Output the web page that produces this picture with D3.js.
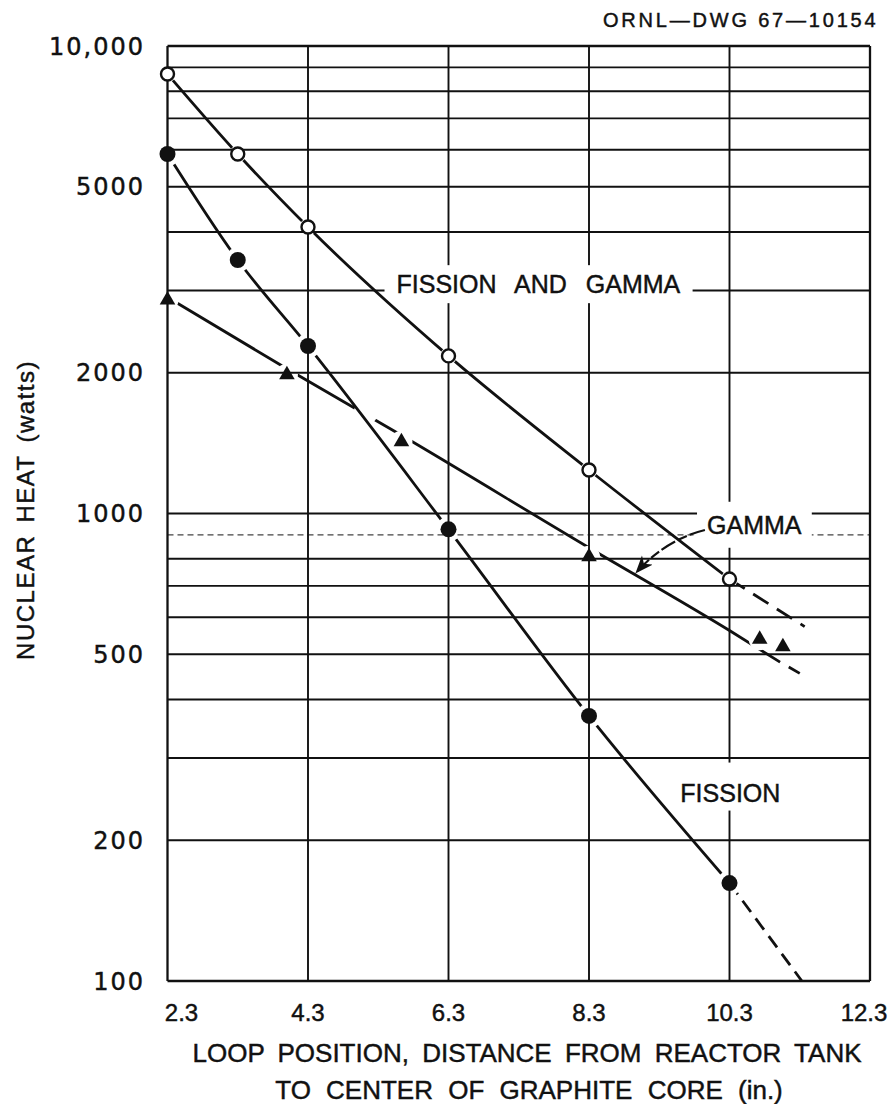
<!DOCTYPE html>
<html>
<head>
<meta charset="utf-8">
<script src="https://cdnjs.cloudflare.com/ajax/libs/d3/7.8.5/d3.min.js"></script>
<style>
  body { margin: 0; background: #fff; }
  text { fill: #111; stroke: #111; stroke-width: 0.45; }
</style>
</head>
<body>
<svg id="chart" width="893" height="1104"></svg>
<script>
// axis ticks and grid
var xTicks = [2.3, 4.3, 6.3, 8.3, 10.3, 12.3];
var yTicks = [100, 200, 500, 1000, 2000, 5000, 10000];
var yTickLabels = ["100", "200", "500", "1000", "2000", "5000", "10,000"];
var yGrid = [100, 200, 300, 400, 500, 600, 700, 800, 900,
             1000, 2000, 3000, 4000, 5000, 6000, 7000, 8000, 9000, 10000];

// fission and gamma (open circles)
var fgPos = [2.3, 3.3, 4.3, 6.3, 8.3, 10.3];
var fgVal = [8710, 5875, 4100, 2173, 1239, 724];
var fgExt = [[10.3, 724], [11.37, 573]];

// fission (filled circles)
var fisPos = [2.3, 3.3, 4.3, 6.3, 8.3, 10.3];
var fisVal = [5875, 3485, 2282, 925, 369, 162];
var fisExt = [[10.3, 162], [11.33, 100]];

// gamma (triangles) + faired curve
var gamPos = [2.3, 4.0, 5.63, 8.3, 10.73, 11.06];
var gamVal = [2862, 1980, 1424, 808, 538, 519];
var gamFitX = [2.3, 4.0, 5.63, 8.3, 10.3, 11.02];
var gamFitY = [2900, 2040, 1470, 845, 562, 481];
var gamExt = [[11.02, 481], [11.30, 455]];
var gamCross = [[5.12, 1641]];   // break where fission curve crosses

// GAMMA pointer arrow (start, control, tip)
var arrowPts = [[9.95, 922], [9.38, 878], [8.96, 744]];

var svg = d3.select("#chart");
svg.append("rect").attr("width", 893).attr("height", 1104).attr("fill", "#fff");

var x = d3.scaleLinear().domain([2.3, 12.3]).range([167.5, 870]);
var y = d3.scaleLog().domain([100, 10000]).range([981, 46]);

function zip(a, b) {
    return a.map(function(v, i) { return [v, b[i]]; });
}

var fgPts = zip(fgPos, fgVal);
var fisPts = zip(fisPos, fisVal);
var gamPts = zip(gamPos, gamVal);
var gamFit = zip(gamFitX, gamFitY);

var defs = svg.append("defs");

// masks leave small gaps in the curves round each plotted point
function makeMask(id, pts, r) {
    var m = defs.append("mask").attr("id", id).attr("maskUnits", "userSpaceOnUse")
        .attr("x", 0).attr("y", 0).attr("width", 893).attr("height", 1104);
    m.append("rect").attr("width", 893).attr("height", 1104).attr("fill", "#fff");
    m.selectAll("circle").data(pts).enter().append("circle")
        .attr("cx", function(d) { return x(d[0]); })
        .attr("cy", function(d) { return y(d[1]); })
        .attr("r", function(d) { return d[2] || r; })
        .attr("fill", "#000");
}
makeMask("m-fg", fgPts, 8.5);
makeMask("m-fis", fisPts, 12.5);
makeMask("m-gam", gamPts.concat(gamCross.map(function(d) { return [d[0], d[1], 12]; })), 11);

defs.append("marker")
    .attr("id", "arrowhead")
    .attr("markerUnits", "userSpaceOnUse")
    .attr("markerWidth", 22).attr("markerHeight", 16)
    .attr("refX", 18).attr("refY", 7)
    .attr("orient", "auto")
  .append("path")
    .attr("d", "M0,0 L18,7 L0,14 L5,7 Z")
    .attr("fill", "#111");

// grid
var grid = svg.append("g").attr("class", "grid");
grid.selectAll("line.h").data(yGrid).enter().append("line")
    .attr("class", "h")
    .attr("x1", x(2.3)).attr("x2", x(12.3))
    .attr("y1", function(d) { return y(d); })
    .attr("y2", function(d) { return y(d); })
    .attr("stroke", function(d) { return d === 900 ? "#444" : "#111"; })
    .attr("stroke-width", function(d) { return (d === 100 || d === 10000) ? 2.3 : (d === 900 ? 1.4 : 1.9); })
    .attr("stroke-dasharray", function(d) { return d === 900 ? "6,4" : null; });

grid.selectAll("line.v").data(xTicks).enter().append("line")
    .attr("class", "v")
    .attr("x1", function(d) { return x(d); })
    .attr("x2", function(d) { return x(d); })
    .attr("y1", y(10000)).attr("y2", y(100))
    .attr("stroke", "#111")
    .attr("stroke-width", function(d, i) { return (i === 0 || i === xTicks.length - 1) ? 2.3 : 1.9; });

// labels inside the grid, with the grid knocked out behind them
var labelLayer = svg.append("g");
function addLabel(txt, xv, yv, padX, padTop, padBot, spacing) {
    var g = labelLayer.append("g");
    var bg = g.append("rect").attr("fill", "#fff");
    var t = g.append("text")
        .attr("x", x(xv)).attr("y", y(yv))
        .attr("font-family", "'Liberation Sans', Arial, sans-serif")
        .attr("font-size", 25)
        .attr("word-spacing", spacing || 0)
        .text(txt);
    var b = t.node().getBBox();
    bg.attr("x", b.x - padX).attr("y", b.y - padTop)
      .attr("width", b.width + padX * 2).attr("height", b.height + padTop + padBot);
}
addLabel("FISSION AND GAMMA", 5.56, 2960, 12, 5, 5, 12);
addLabel("GAMMA", 9.98, 905, 10, 9, 9);
addLabel("FISSION", 9.6, 242, 6, 16, 4);

// curves
var line = d3.line()
    .x(function(d) { return x(d[0]); })
    .y(function(d) { return y(d[1]); })
    .curve(d3.curveMonotoneX);

var curves = svg.append("g").attr("fill", "none").attr("stroke", "#111").attr("stroke-width", 2.8);

curves.append("path").attr("d", line(fgPts)).attr("mask", "url(#m-fg)");
curves.append("path").attr("d", line(fgExt)).attr("mask", "url(#m-fg)")
    .attr("stroke-dasharray", "18,10");

curves.append("path").attr("d", line(fisPts)).attr("mask", "url(#m-fis)");
curves.append("path").attr("d", line(fisExt)).attr("mask", "url(#m-fis)")
    .attr("stroke-dasharray", "14,8");

curves.append("path").attr("d", line(gamFit)).attr("mask", "url(#m-gam)");
curves.append("path").attr("d", line(gamExt)).attr("mask", "url(#m-gam)")
    .attr("stroke-dasharray", "0,10,13,100");

// arrow from GAMMA label to its curve
var ap = d3.path();
ap.moveTo(x(arrowPts[0][0]), y(arrowPts[0][1]));
ap.quadraticCurveTo(x(arrowPts[1][0]), y(arrowPts[1][1]), x(arrowPts[2][0]), y(arrowPts[2][1]));
svg.append("path")
    .attr("d", ap.toString())
    .attr("fill", "none")
    .attr("stroke", "#111")
    .attr("stroke-width", 2.2)
    .attr("stroke-dasharray", "16,3,10,3")
    .attr("marker-end", "url(#arrowhead)");

// markers
var marks = svg.append("g");
marks.selectAll("circle.fg").data(fgPts).enter().append("circle")
    .attr("class", "fg")
    .attr("cx", function(d) { return x(d[0]); })
    .attr("cy", function(d) { return y(d[1]); })
    .attr("r", 6.5)
    .attr("fill", "#fff").attr("stroke", "#111").attr("stroke-width", 2.4);

marks.selectAll("circle.fis").data(fisPts).enter().append("circle")
    .attr("class", "fis")
    .attr("cx", function(d) { return x(d[0]); })
    .attr("cy", function(d) { return y(d[1]); })
    .attr("r", 8)
    .attr("fill", "#111");

var tri = d3.symbol().type(d3.symbolTriangle).size(105);
marks.selectAll("path.gam").data(gamPts).enter().append("path")
    .attr("class", "gam")
    .attr("d", tri)
    .attr("transform", function(d) { return "translate(" + x(d[0]) + "," + y(d[1]) + ")"; })
    .attr("fill", "#111");

// tick labels
svg.append("g").selectAll("text").data(yTicks).enter().append("text")
    .attr("x", 145)
    .attr("y", function(d) { return y(d); })
    .attr("dy", "0.36em")
    .attr("text-anchor", "end")
    .attr("font-family", "'DejaVu Sans', sans-serif")
    .attr("font-size", 24)
    .attr("letter-spacing", 2)
    .text(function(d, i) { return yTickLabels[i]; });

svg.append("g").selectAll("text").data(xTicks).enter().append("text")
    .attr("x", function(d) { return x(d); })
    .attr("dx", function(d, i) { return i === 0 ? 14 : (i === xTicks.length - 1 ? -6 : 0); })
    .attr("y", 1021)
    .attr("text-anchor", "middle")
    .attr("font-family", "'Liberation Sans', Arial, sans-serif")
    .attr("font-size", 24)
    .text(function(d) { return d.toFixed(1); });

// axis titles
var titleFont = "'Liberation Sans', Arial, sans-serif";
svg.append("text")
    .attr("x", 527).attr("y", 1062)
    .attr("text-anchor", "middle")
    .attr("font-family", titleFont).attr("font-size", 26).attr("word-spacing", 6)
    .text("LOOP POSITION, DISTANCE FROM REACTOR TANK");
svg.append("text")
    .attr("x", 529).attr("y", 1099)
    .attr("text-anchor", "middle")
    .attr("font-family", titleFont).attr("font-size", 26).attr("word-spacing", 8)
    .text("TO CENTER OF GRAPHITE CORE (in.)");

svg.append("text")
    .attr("transform", "translate(34,510) rotate(-90)")
    .attr("text-anchor", "middle")
    .attr("font-family", titleFont).attr("font-size", 24)
    .attr("letter-spacing", 1.5).attr("word-spacing", 4)
    .text("NUCLEAR HEAT (watts)");

svg.append("text")
    .attr("x", 603).attr("y", 27)
    .attr("font-family", titleFont).attr("font-size", 20)
    .attr("letter-spacing", 2.8)
    .text("ORNL\u2014DWG 67\u201410154");
</script>
</body>
</html>
